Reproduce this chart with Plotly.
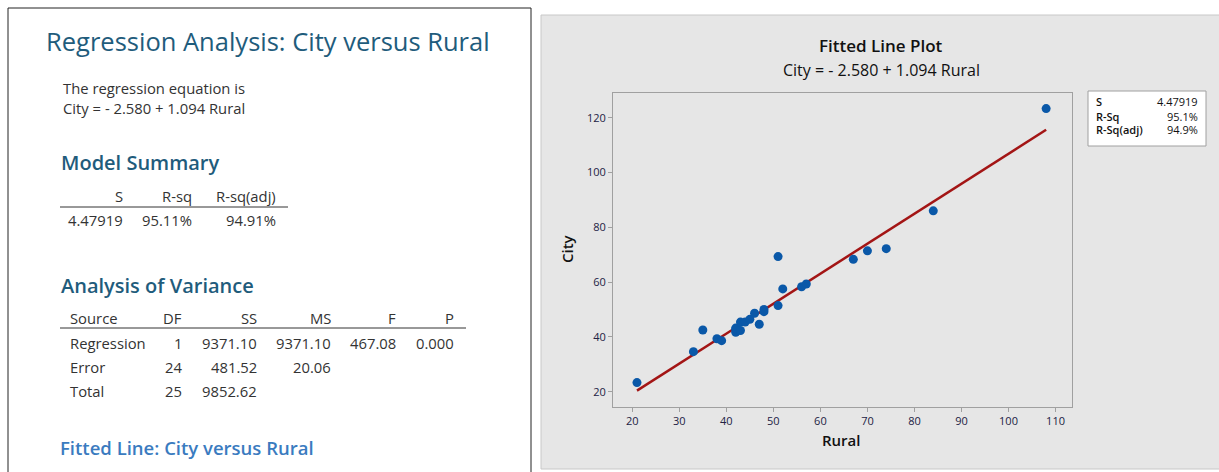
import plotly.graph_objects as go

# Observations
rural = [21, 33, 35, 38, 39, 42, 42, 42, 43, 43, 44, 45, 46, 47, 48, 48,
         51, 51, 52, 56, 57, 67, 70, 74, 84, 108]
city = [23.3, 34.6, 42.5, 39.3, 38.6, 41.7, 42.8, 43.2, 42.3, 45.4, 45.4, 46.4,
        48.6, 44.6, 50.0, 49.2, 69.3, 51.4, 57.5, 58.3, 59.3, 68.3, 71.4, 72.2,
        86.0, 123.3]

# Regression results
intercept = -2.580
slope = 1.094
model_header = ["S", "R-sq", "R-sq(adj)"]
model_values = ["4.47919", "95.11%", "94.91%"]
anova_header = ["Source", "DF", "SS", "MS", "F", "P"]
anova_rows = [
    ["Regression", "1", "9371.10", "9371.10", "467.08", "0.000"],
    ["Error", "24", "481.52", "20.06", "", ""],
    ["Total", "25", "9852.62", "", "", ""],
]
stats_labels = ["S", "R-Sq", "R-Sq(adj)"]
stats_values = ["4.47919", "95.1%", "94.9%"]

W, H = 1219, 472
FONT = "'Open Sans', 'Noto Sans', sans-serif"
TEXT = "#333333"
HEAD = "#1F5C7C"
BODY = 14.8


def px(x):
    return x / W


def py(y):
    return 1 - y / H


x_fit = [min(rural), max(rural)]
y_fit = [intercept + slope * v for v in x_fit]

fig = go.Figure()
fig.add_trace(go.Scatter(x=x_fit, y=y_fit, mode="lines",
                         line=dict(color="#A31515", width=2.5),
                         hoverinfo="skip", showlegend=False))
fig.add_trace(go.Scatter(x=rural, y=city, mode="markers",
                         marker=dict(color="#0A58A8", size=9),
                         showlegend=False))

shapes = [
    # report panel
    dict(type="rect", xref="paper", yref="paper", x0=px(8), x1=px(531),
         y0=py(480), y1=py(8), fillcolor="white",
         line=dict(color="#222222", width=1), layer="below"),
    # graph panel
    dict(type="rect", xref="paper", yref="paper", x0=px(541), x1=px(1225),
         y0=py(469), y1=py(15), fillcolor="#E6E6E6",
         line=dict(color="#C8C8C8", width=1), layer="below"),
    # stats box
    dict(type="rect", xref="paper", yref="paper", x0=px(1088), x1=px(1206),
         y0=py(146), y1=py(91), fillcolor="white",
         line=dict(color="#A0A0A0", width=1)),
    # table rules
    dict(type="line", xref="paper", yref="paper", x0=px(60), x1=px(288),
         y0=py(207), y1=py(207), line=dict(color="#333333", width=1)),
    dict(type="line", xref="paper", yref="paper", x0=px(60), x1=px(466),
         y0=py(328), y1=py(328), line=dict(color="#333333", width=1)),
]

ann = []


def text(x, y, s, size, color=TEXT, anchor="left", weight=None, **kw):
    f = dict(size=size, color=color, family=FONT)
    if weight:
        f["weight"] = weight
    ann.append(dict(xref="paper", yref="paper", x=px(x), y=py(y), text=s,
                    showarrow=False, xanchor=anchor, yanchor="middle",
                    font=f, **kw))


# report text
text(44, 41, "Regression Analysis: City versus Rural", 25.5, HEAD)
text(61, 88, "The regression equation is", BODY)
text(61, 108, "City = - 2.580 + 1.094 Rural", BODY)
text(59, 162, "Model Summary", 20, HEAD, weight=600)
model_right = [125, 194, 278]
for xr, h, v in zip(model_right, model_header, model_values):
    text(xr, 196, h, BODY, anchor="right")
    text(xr, 220, v, BODY, anchor="right")

text(59, 285, "Analysis of Variance", 20, HEAD, weight=600)
anova_right = [None, 184, 259, 333, 398, 456]
for i, h in enumerate(anova_header):
    if i == 0:
        text(68, 318, h, BODY)
    else:
        text(anova_right[i], 318, h, BODY, anchor="right")
for r, row in enumerate(anova_rows):
    yy = 343 + 24 * r
    for i, v in enumerate(row):
        if not v:
            continue
        if i == 0:
            text(68, yy, v, BODY)
        else:
            text(anova_right[i], yy, v, BODY, anchor="right")
text(58, 447, "Fitted Line: City versus Rural", 18.5, "#3A7BBF", weight=600)

# graph titles
text(881, 46, "Fitted Line Plot", 17, "#111111", anchor="center", weight=600)
text(881, 70, "City = - 2.580 + 1.094 Rural", 16, "#111111", anchor="center")
text(841, 440, "Rural", 15, "#111111", anchor="center", weight=600)
text(567, 249, "City", 15, "#111111", anchor="center", weight=600,
     textangle=-90)

# stats box
for k, (lab, val) in enumerate(zip(stats_labels, stats_values)):
    yy = 102 + 14 * k
    text(1094, yy, lab, 11, "#111111", weight=600)
    text(1200, yy, val, 11, "#111111", anchor="right")

axis_common = dict(showgrid=False, zeroline=False, showline=True, mirror=True,
                   linecolor="#A0A0A0", linewidth=1, ticks="outside",
                   ticklen=4, tickcolor="#A0A0A0",
                   tickfont=dict(size=11, color="#222244", family=FONT))

fig.update_layout(
    width=W, height=H, margin=dict(l=0, r=0, t=0, b=0),
    paper_bgcolor="white", plot_bgcolor="white",
    shapes=shapes, annotations=ann,
    font=dict(family=FONT),
    xaxis=dict(domain=[px(613), px(1072)], range=[15.9, 113.5],
               tickvals=[20, 30, 40, 50, 60, 70, 80, 90, 100, 110],
               **axis_common),
    yaxis=dict(domain=[py(407), py(93)], range=[14.4, 129],
               tickvals=[20, 40, 60, 80, 100, 120], **axis_common),
)

fig.write_html("out.html")
